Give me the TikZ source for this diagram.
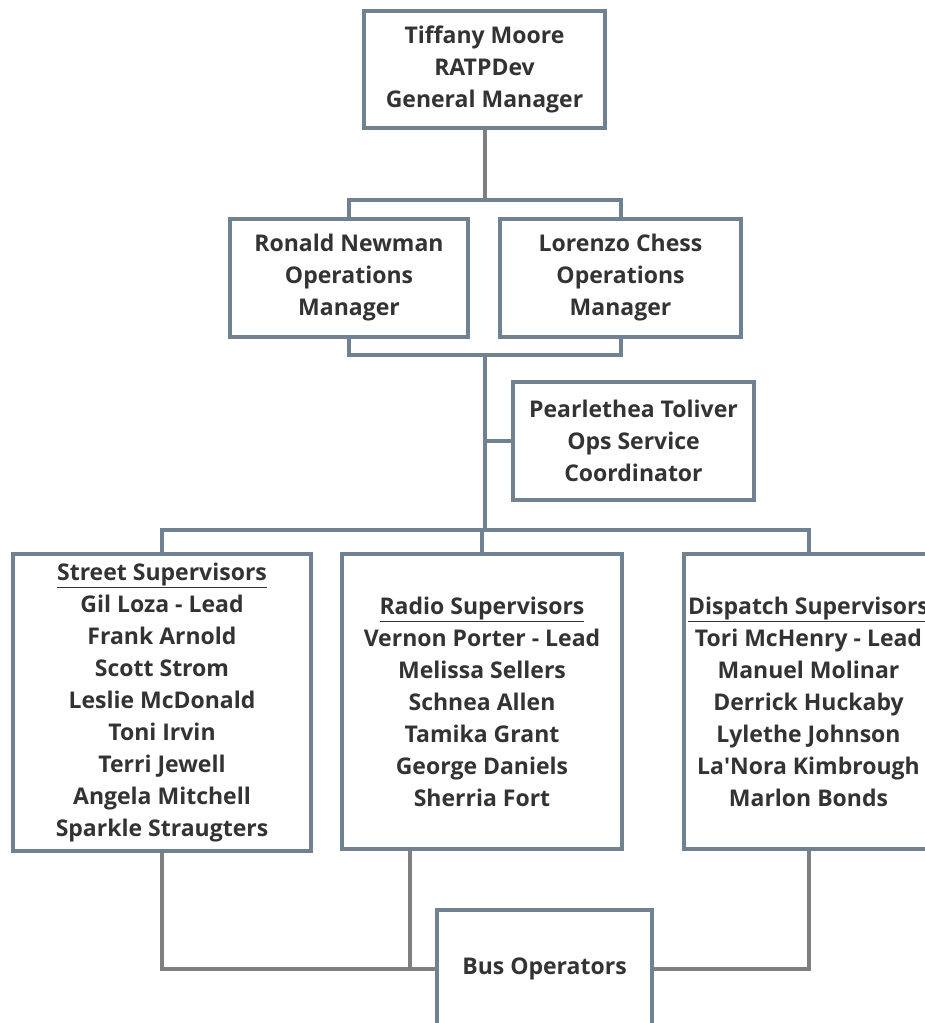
\documentclass[tikz,border=0pt]{standalone}
\usepackage{fontspec}
\setmainfont{Open Sans}
\usetikzlibrary{positioning,backgrounds}
\definecolor{boxline}{RGB}{112,130,145}
\definecolor{linkgray}{RGB}{127,127,127}
\definecolor{txtgray}{RGB}{51,51,51}

\begin{document}
\begin{tikzpicture}[line join=miter,x=1pt,y=-1pt,
  box/.style={draw=boxline,line width=4pt,fill=white,align=center,inner sep=0pt,
    text=txtgray,font=\bfseries\fontsize{23}{32}\selectfont},
  tree/.style={draw=boxline,line width=4pt},
  link/.style={draw=linkgray,line width=4pt}]

\useasboundingbox (0,0) rectangle (925,1023);
\clip (0,0) rectangle (925,1023);

% boxes
\node[box,minimum width=241pt,minimum height=117pt] (gm) at (484.5,69.5) {Tiffany Moore\\RATPDev\\General Manager};
\node[box,minimum width=238pt,minimum height=118pt] (rn) at (349,278) {Ronald Newman\\Operations\\Manager};
\node[box,minimum width=241pt,minimum height=118pt] (lc) at (620.5,278) {Lorenzo Chess\\Operations\\Manager};
\node[box,minimum width=241pt,minimum height=118pt] (pt) at (633.5,441) {Pearlethea Toliver\\Ops Service\\Coordinator};
\node[box,minimum width=298pt,minimum height=297pt] (ss) at (162,702.5) {\underline{Street Supervisors}\\Gil Loza - Lead\\Frank Arnold\\Scott Strom\\Leslie McDonald\\Toni Irvin\\Terri Jewell\\Angela Mitchell\\Sparkle Straugters};
\node[box,minimum width=280pt,minimum height=295pt] (rs) at (482,701.5) {\underline{Radio Supervisors}\\Vernon Porter - Lead\\Melissa Sellers\\Schnea Allen\\Tamika Grant\\George Daniels\\Sherria Fort};
\node[box,minimum width=249pt,minimum height=295pt] (ds) at (808.5,701.5) {\underline{Dispatch Supervisors}\\Tori McHenry - Lead\\Manuel Molinar\\Derrick Huckaby\\Lylethe Johnson\\La\textquotesingle Nora Kimbrough\\Marlon Bonds};
\node[box,minimum width=215pt,minimum height=118pt] (bo) at (544.5,969) {Bus Operators};

\coordinate (j1) at (484.5,200);
\coordinate (j2) at (484.5,355);
\coordinate (j3) at (484.5,530);

% connectors
\begin{pgfonlayer}{background}
\draw[link] (gm.south) -- (j1);
\draw[tree] (rn.north) |- (j1) -| (lc.north);
\draw[tree] (rn.south) |- (j2) -| (lc.south);
\draw[tree] (j2) -- (j3);
\draw[tree] (pt.west) -- (pt.west -| j2);
\draw[tree] (ss.north) |- (j3) -| (ds.north);
\draw[tree] (rs.north |- j3) -- (rs.north);
\draw[link] (ss.south) |- (bo.west);
\draw[link] ([xshift=-72pt]rs.south) -- ([xshift=-72pt]rs.south |- bo.west);
\draw[link] (ds.south) |- (bo.east);
\end{pgfonlayer}
\end{tikzpicture}
\end{document}
